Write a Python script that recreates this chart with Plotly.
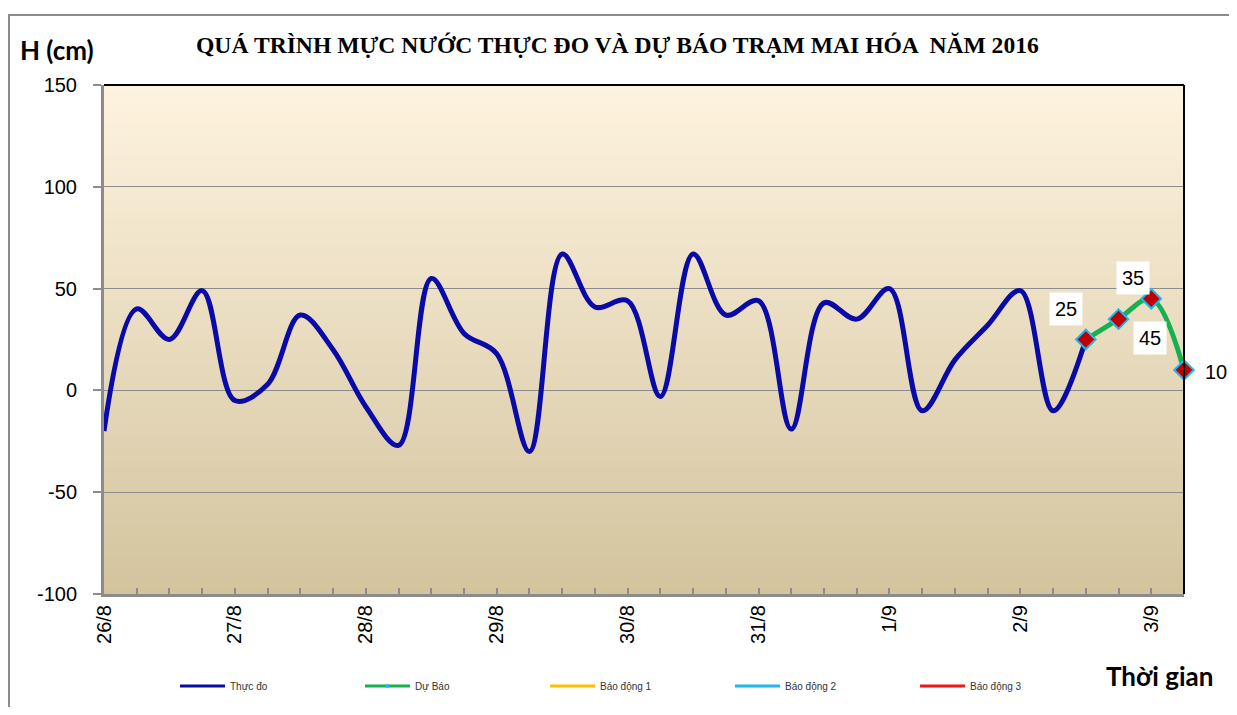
import plotly.graph_objects as go

# ---- data ----
day_labels = ["26/8", "27/8", "28/8", "29/8", "30/8", "31/8", "1/9", "2/9", "3/9"]
steps_per_day = 4  # 6-hourly
observed = [-20, 40, 25, 49, -5, 3, 37, 20, -8, -27, 55, 28, 18, -30, 67, 41,
            44, -3, 67, 37, 44, -19, 43, 35, 50, -10, 15, 32, 49, -10, 25]
forecast = [25, 35, 45, 10]
forecast_start = 30
y_ticks = [-100, -50, 0, 50, 100, 150]
y_tick_text = ["-100", "-50", "0", "50", "100", "150"]
series_names = ["Thực đo", "Dự Báo", "Báo động 1", "Báo động 2", "Báo động 3"]
series_colors = ["#0A0AA8", "#16B050", "#FFC000", "#1FB8EC", "#F01818"]

x_obs = list(range(len(observed)))
x_fc = list(range(forecast_start, forecast_start + len(forecast)))
tickvals = [i * steps_per_day for i in range(len(day_labels))]

# ---- layout geometry (page pixels; body margin 8px) ----
OFF = 8
W, H = 1237 - OFF, 715 - 2 * OFF
PL, PR, PT, PB = 104, 1184, 85, 594  # plot area in page pixels
L, T = PL - OFF, PT - OFF
R = W - (PR - OFF)
B = H - (PB - OFF)
PW, PH = PR - PL, PB - PT

def px(xp):
    return (xp - PL) / PW

def py(yp):
    return (PB - yp) / PH

def cx(xp):
    return (xp - OFF) / W

def cy(yp):
    return 1 - (yp - OFF) / H

fig = go.Figure()

fig.add_trace(go.Scatter(x=x_obs, y=observed, mode="lines", name=series_names[0], showlegend=False,
                         line=dict(color=series_colors[0], width=5, shape="spline", smoothing=1.0)))
fig.add_trace(go.Scatter(x=x_fc, y=forecast, mode="lines", name=series_names[1], showlegend=False,
                         line=dict(color=series_colors[1], width=5, shape="spline", smoothing=1.0)))
fig.add_trace(go.Scatter(x=x_fc, y=forecast, mode="markers", showlegend=False, name=series_names[1],
                         marker=dict(symbol="diamond", size=15, color="#C00000",
                                     line=dict(color="#1FB8EC", width=2)),
                         cliponaxis=False))
# legend entries
for i, (n, c) in enumerate(zip(series_names, series_colors)):
    fig.add_trace(go.Scatter(x=[None], y=[None], mode="lines+markers" if i == 1 else "lines",
                             name=n, line=dict(color=c, width=3),
                             marker=dict(size=4, color="#1FB8EC", symbol="circle")))

# gradient background
shapes = []
N = 80
top = (254, 243, 223)
bot = (211, 196, 158)
for k in range(N):
    t = (k + 0.5) / N  # 0 bottom -> 1 top
    col = tuple(round(bot[i] + (top[i] - bot[i]) * t) for i in range(3))
    shapes.append(dict(type="rect", xref="paper", yref="paper", x0=0, x1=1,
                       y0=k / N, y1=(k + 1) / N + 0.002, layer="below",
                       fillcolor="rgb(%d,%d,%d)" % col, line=dict(width=0)))
# black top and right border
shapes.append(dict(type="line", xref="paper", yref="paper", x0=0, x1=1, y0=1, y1=1,
                   line=dict(color="black", width=2)))
shapes.append(dict(type="line", xref="paper", yref="paper", x0=1, x1=1, y0=0, y1=1,
                   line=dict(color="black", width=2)))
# outer chart frame
shapes.append(dict(type="rect", xref="paper", yref="paper", x0=px(9), x1=px(1260),
                   y0=py(740), y1=py(15), line=dict(color="#8C8C8C", width=2),
                   fillcolor="rgba(0,0,0,0)", layer="below"))

ann = []
lab_font = dict(family="Liberation Sans, Arial", size=20, color="black")
label_offsets = [(-20, 31), (14, 41), (-1, -39), (32, -2)]
for xv, yv, (dx, dy), show_bg in zip(x_fc, forecast, label_offsets, [1, 1, 1, 0]):
    ann.append(dict(x=xv, y=yv, xref="x", yref="y", text=str(yv), showarrow=False,
                    xshift=dx, yshift=dy, font=lab_font, xanchor="center", yanchor="middle",
                    bgcolor="white" if show_bg else "rgba(0,0,0,0)", borderpad=5))

ann.append(dict(x=px(617), y=py(45), xref="paper", yref="paper", showarrow=False,
                xanchor="center", yanchor="middle",
                text="<b>QUÁ TRÌNH MỰC NƯỚC THỰC ĐO VÀ DỰ BÁO TRẠM MAI HÓA  NĂM 2016</b>",
                font=dict(family="Liberation Serif, Times New Roman", size=23.6, color="black")))
ann.append(dict(x=px(57), y=py(50), xref="paper", yref="paper", showarrow=False,
                xanchor="center", yanchor="middle",
                text="<b>H (cm)</b>",
                font=dict(family="Lato, Noto Sans", size=26, color="black")))
ann.append(dict(x=px(1159), y=py(676), xref="paper", yref="paper", showarrow=False,
                xanchor="center", yanchor="middle",
                text="<b>Thời gian</b>",
                font=dict(family="Lato, Noto Sans", size=26, color="black")))

fig.update_layout(
    width=W, height=H,
    margin=dict(l=L, r=R, t=T, b=B),
    paper_bgcolor="white",
    plot_bgcolor="rgba(0,0,0,0)",
    shapes=shapes,
    annotations=ann,
    showlegend=True,
    legend=dict(orientation="h", xref="container", yref="container",
                x=cx(175), y=cy(686), xanchor="left", yanchor="middle",
                font=dict(family="Liberation Sans, Arial", size=10, color="#333"),
                itemwidth=45, entrywidth=125, entrywidthmode="pixels",
                bgcolor="rgba(0,0,0,0)"),
    xaxis=dict(range=[0, 33], tickvals=tickvals, ticktext=day_labels, tickangle=-90,
               ticks="inside", ticklen=6, tickcolor="#8C8C8C", tickwidth=2,
               minor=dict(dtick=1, tick0=0, ticks="inside", ticklen=6, tickcolor="#8C8C8C", tickwidth=2),
               showgrid=False, showline=True, linecolor="#8C8C8C", linewidth=3,
               tickfont=dict(family="Liberation Sans, Arial", size=20, color="black"),
               zeroline=False, automargin=False),
    yaxis=dict(range=[-100, 150], tickvals=y_ticks, ticktext=y_tick_text,
               showgrid=True, gridcolor="#8C8C8C",
               gridwidth=1, showline=True, linecolor="#8C8C8C", linewidth=3,
               ticks="outside", ticklen=8, tickcolor="#8C8C8C", tickwidth=2,
               ticklabelstandoff=12,
               tickfont=dict(family="Liberation Sans, Arial", size=20, color="black"),
               zeroline=False, automargin=False),
)

fig.write_html("out.html")
